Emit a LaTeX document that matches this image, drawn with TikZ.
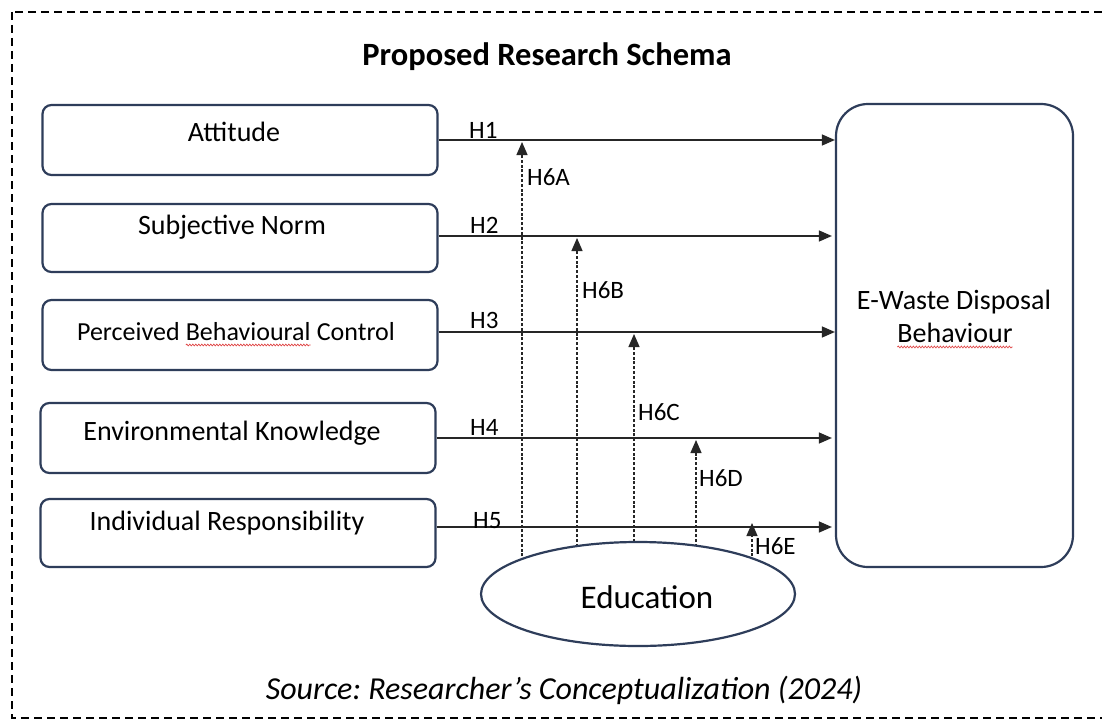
\documentclass[tikz,border=0pt]{standalone}
\usepackage{fontspec}
\setmainfont{Carlito}
\frenchspacing
\usetikzlibrary{arrows.meta,shapes.geometric,decorations.pathmorphing}
\definecolor{navy}{HTML}{2E3D5A}
\definecolor{arr}{HTML}{262626}
\definecolor{spell}{HTML}{E04848}
\newcommand\spellmark[1]{\tikz[baseline=(spw.base)]{\node[inner sep=0pt,outer sep=0pt,anchor=base](spw){#1};\draw[spell,line width=0.7pt,decorate,decoration={snake,amplitude=0.9pt,segment length=3pt}] ([yshift=-5pt]spw.base west) -- ([yshift=-5pt]spw.base east);}}
\begin{document}
\begin{tikzpicture}[x=1pt,y=-1pt,
  box/.style={draw=navy,line width=2.2pt,rounded corners=9pt,fill=white,minimum width=395pt,inner sep=0pt},
  txt/.style={font=\fontsize{28}{33}\selectfont,inner sep=0pt,anchor=base},
  hl/.style={font=\fontsize{25}{30}\selectfont,inner sep=0pt,anchor=base west},
  harr/.style={draw=arr,line width=1.4pt,-{Triangle[length=13pt,width=11pt]}},
  darr/.style={draw=arr,line width=1.3pt,dash pattern=on 3pt off 1.8pt,-{Triangle[length=13pt,width=11pt]}}]
\useasboundingbox (0,0) rectangle (1102,725);
\fill[white] (0,0) rectangle (1102,725);
\draw[line width=2pt,dash pattern=on 8pt off 5pt] (12,12) rectangle (1112,718);

\node[font=\fontsize{32.5}{38}\selectfont\bfseries,inner sep=0pt,anchor=base] (title) at (547,65) {Proposed Research Schema};

% left boxes
\node[box,minimum height=70pt] (att) at (240,140) {};
\node[box,minimum height=68pt] (sn)  at (240,238) {};
\node[box,minimum height=70pt] (pbc) at (240,335) {};
\node[box,minimum height=70pt] (ek)  at (238,438) {};
\node[box,minimum height=68pt] (ir)  at (238,533) {};
\node[txt] (attT) at (234,141) {Attitude};
\node[txt] (snT)  at (232,234) {Subjective Norm};
\node[txt,font=\fontsize{26}{31}\selectfont] (pbcT) at (236,340) {Perceived \spellmark{Behavioural} Control};
\node[txt] (ekT)  at (232,440) {Environmental Knowledge};
\node[txt] (irT)  at (227,530) {Individual Responsibility};

% outcome box
\node[draw=navy,line width=2.2pt,rounded corners=32pt,fill=white,minimum width=237pt,minimum height=463pt,inner sep=0pt] (ewd) at (954.5,335.5) {};
\node[txt] (ewdT1) at (954,309) {E-Waste Disposal};
\node[txt] (ewdT2) at (955,342) {\spellmark{Behaviour}};

% horizontal hypotheses
\coordinate (l1) at (att.east);
\coordinate (l2) at ([yshift=2pt]sn.east);
\coordinate (l3) at ([yshift=3pt]pbc.east);
\coordinate (l4) at (ek.east);
\coordinate (l5) at ([yshift=6pt]ir.east);
\draw[harr] (l1) -- (l1 -| ewd.west);
\draw[harr] (l2) -- ([xshift=-3pt]l2 -| ewd.west);
\draw[harr] (l3) -- (l3 -| ewd.west);
\draw[harr] (l4) -- ([xshift=-3pt]l4 -| ewd.west);
\draw[harr] (l5) -- ([xshift=-3pt]l5 -| ewd.west);
\node[hl] (h1) at (469,138) {H1};
\node[hl] (h2) at (470,233) {H2};
\node[hl] (h3) at (470,328) {H3};
\node[hl] (h4) at (470,435) {H4};
\node[hl] (h5) at (473,528) {H5};

% moderation arrows from Education
\coordinate (x1) at (522,590);
\coordinate (x2) at (577,590);
\coordinate (x3) at (634,590);
\coordinate (x4) at (696,590);
\coordinate (x5) at (752,590);
\draw[darr] (x1) -- ([yshift=-2pt]x1 |- l1);
\draw[darr] (x2) -- ([yshift=-2pt]x2 |- l2);
\draw[darr] (x3) -- ([yshift=-2pt]x3 |- l3);
\draw[darr] (x4) -- ([yshift=-2pt]x4 |- l4);
\draw[darr] (x5) -- ([yshift=4pt]x5 |- l5);
\node[hl] (h6a) at (527,185) {H6A};
\node[hl] (h6b) at (582,298) {H6B};
\node[hl] (h6c) at (638,420) {H6C};
\node[hl] (h6d) at (699,486) {H6D};
\node[hl] (h6e) at (755,554) {H6E};

% moderator
\node[ellipse,draw=navy,line width=2.2pt,fill=white,minimum width=314pt,minimum height=104pt,inner sep=0pt] (edu) at (638,594) {};
\node[txt,font=\fontsize{33}{38}\selectfont] (eduT) at (647,608) {Education};

% source
\node[txt,font=\fontsize{32}{38}\selectfont\itshape] (src) at (564,699) {Source: Researcher’s Conceptualization (2024)};
\end{tikzpicture}
\end{document}
